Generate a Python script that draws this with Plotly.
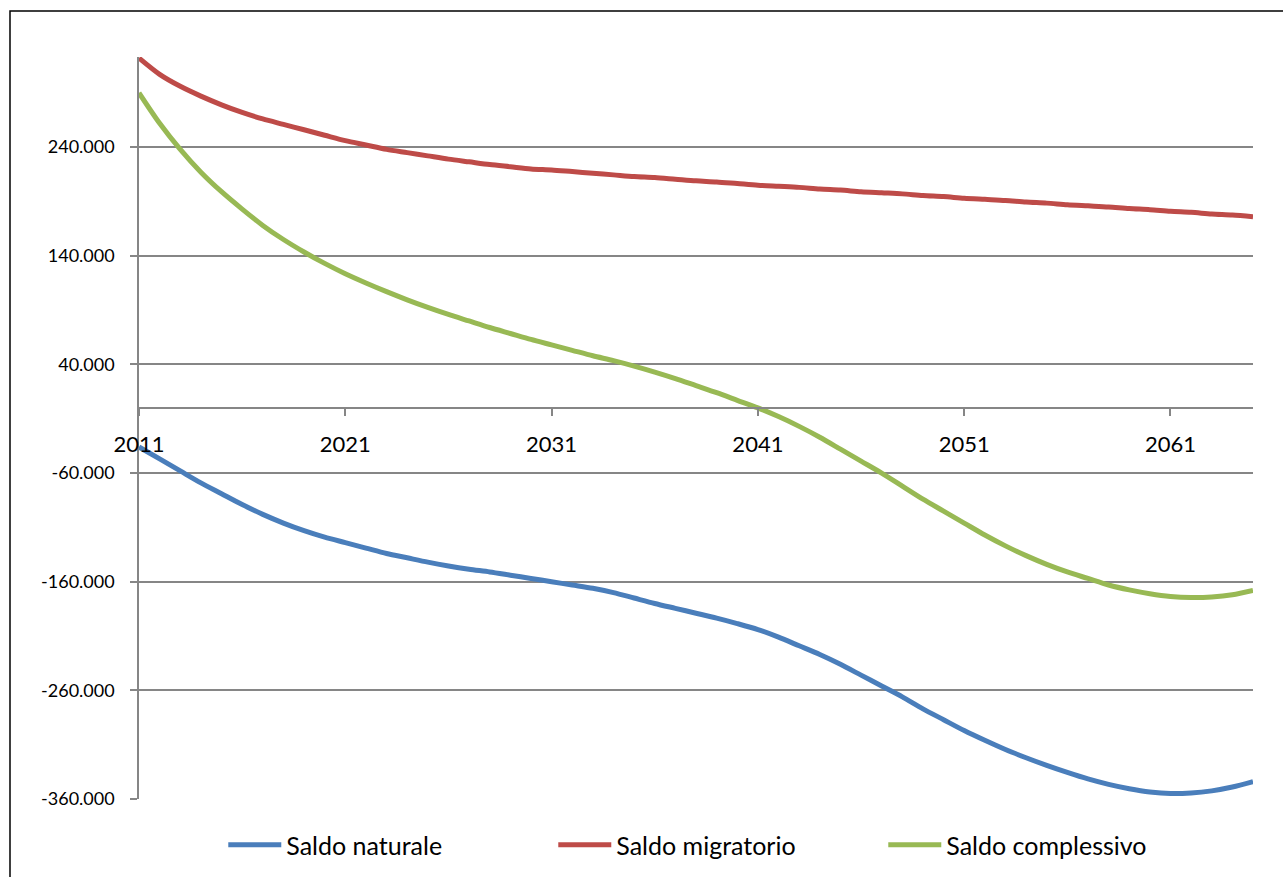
import plotly.graph_objects as go

# Anni di proiezione
anni = list(range(2011, 2066))

# Valori in migliaia
saldo_naturale = [
    -36, -47, -58, -69, -79, -89, -98, -106, -113, -119,
    -124, -129, -134, -138, -142, -145.5, -148.5, -151, -154, -157,
    -160, -163, -166, -170, -175, -180, -184.5, -189, -193.5, -198.5,
    -204, -211, -219, -227, -236, -246, -256, -266, -277, -287,
    -297, -306, -314.5, -322, -329, -335.5, -341.5, -346.5, -350.5, -353.5,
    -355, -354.5, -352.5, -349, -344,
]
saldo_migratorio = [
    322, 307, 296, 287, 279, 272, 266, 261, 256, 251,
    246, 242, 238, 235, 232, 229, 226.5, 224, 222, 220,
    219, 217.5, 216, 214.5, 213, 212, 210.5, 209, 208, 206.5,
    205, 204, 203, 201.5, 200.5, 199, 198, 197, 195.5, 194.5,
    193, 192, 191, 189.5, 188.5, 187, 186, 185, 183.5, 182.5,
    181, 180, 178.5, 177.5, 176,
]
saldo_complessivo = [
    290, 262, 238, 217, 199, 183, 168, 155, 143.5, 133,
    123.5, 115, 107, 99.5, 92.5, 86, 80, 74, 68.5, 63,
    58, 53, 48, 43.5, 38.5, 33, 27, 20.5, 14, 7,
    0, -8, -17, -27, -38, -49, -60, -72, -84, -95,
    -106, -117, -127, -136, -144, -151, -157, -163, -167.5, -171,
    -173.5, -174.5, -174, -172, -168,
]

serie = [
    ("Saldo naturale", saldo_naturale, "#4A7EBB"),
    ("Saldo migratorio", saldo_migratorio, "#BE4B48"),
    ("Saldo complessivo", saldo_complessivo, "#98B954"),
]

x_ticks = [2011, 2021, 2031, 2041, 2051, 2061]
y_ticks = [-360000, -260000, -160000, -60000, 40000, 140000, 240000]
y_min, y_max = -360000, 323000


def etichetta(v):
    s = f"{abs(v):,}".replace(",", ".")
    return ("-" if v < 0 else "") + s


fig = go.Figure()
for nome, valori, colore in serie:
    fig.add_trace(go.Scatter(
        x=anni,
        y=[v * 1000 for v in valori],
        mode="lines",
        name=nome,
        line=dict(color=colore, width=5, shape="spline", smoothing=0.8),
    ))

grigio = "#868686"
font = "Lato, 'Open Sans', sans-serif"

fig.update_layout(
    width=1283,
    height=877,
    margin=dict(l=139, r=30, t=57, b=78, autoexpand=False),
    paper_bgcolor="white",
    plot_bgcolor="white",
    font=dict(family=font, color="black"),
    showlegend=True,
    legend=dict(
        orientation="h",
        x=0.52,
        xanchor="center",
        y=-0.062,
        yanchor="middle",
        font=dict(size=25, family=font, color="black"),
        itemwidth=53,
        entrywidth=262,
        bgcolor="rgba(0,0,0,0)",
    ),
    xaxis=dict(
        range=[2011, 2065],
        anchor="free",
        position=(0 - y_min) / (y_max - y_min),
        showgrid=False,
        zeroline=False,
        showline=True,
        linecolor=grigio,
        linewidth=1.5,
        ticks="outside",
        ticklen=7,
        tickwidth=1.5,
        tickcolor=grigio,
        tickvals=x_ticks,
        ticktext=[str(a) for a in x_ticks],
        tickfont=dict(size=22, family=font, color="black"),
        ticklabelstandoff=10,
    ),
    yaxis=dict(
        range=[y_min, y_max],
        showgrid=True,
        gridcolor=grigio,
        gridwidth=1.5,
        zeroline=False,
        showline=True,
        linecolor=grigio,
        linewidth=1.5,
        ticks="outside",
        ticklen=7,
        tickwidth=1.5,
        tickcolor=grigio,
        tickvals=y_ticks,
        ticktext=[etichetta(v) for v in y_ticks],
        tickfont=dict(size=18, family=font, color="black"),
        ticklabelstandoff=12,
    ),
    shapes=[
        dict(
            type="rect",
            xref="paper",
            yref="paper",
            x0=-0.1158,
            x1=1.06,
            y0=-0.2,
            y1=1.062,
            line=dict(color="black", width=1.5),
            fillcolor="rgba(0,0,0,0)",
            layer="below",
        )
    ],
)

fig.write_html("out.html")
